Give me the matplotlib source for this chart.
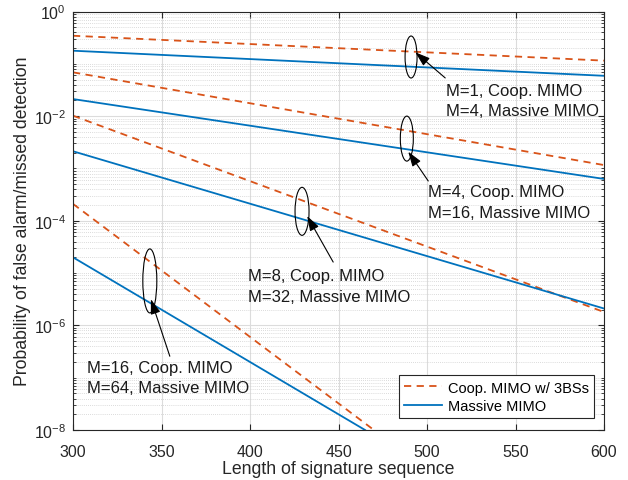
import numpy as np
import matplotlib
matplotlib.use("Agg")
import matplotlib.pyplot as plt
from matplotlib.patches import Ellipse
from matplotlib.ticker import LogLocator, FixedLocator, NullFormatter

plt.rcParams['font.family'] = ['Liberation Sans', 'DejaVu Sans']
plt.rcParams['mathtext.fontset'] = 'custom'
plt.rcParams['mathtext.rm'] = 'Liberation Sans'
plt.rcParams['mathtext.it'] = 'Liberation Sans:italic'

# Data (x = length of signature sequence)
coop_x = [[300, 600], [300, 600], [300, 600], [300, 470]]
coop_y = [[0.344, 0.115], [0.0687, 1.16e-3], [0.0102, 1.8e-6], [2.1e-4, 1e-8]]
mass_x = [[300, 600], [300, 600], [300, 600], [300, 465]]
mass_y = [[0.178, 0.059], [0.0212, 6.3e-4], [2.13e-3, 2.1e-6], [2.0e-5, 1e-8]]

labels = ["M=1, Coop. MIMO\nM=4, Massive MIMO",
          "M=4, Coop. MIMO\nM=16, Massive MIMO",
          "M=8, Coop. MIMO\nM=32, Massive MIMO",
          "M=16, Coop. MIMO\nM=64, Massive MIMO"]
ell_center = [(491, 10**-0.87), (488.6, 10**-2.43), (429.4, 10**-3.82), (343.4, 10**-5.15)]
ell_size_px = [(12, 42), (13, 45), (14, 48), (14, 64)]
arrow_head = [(493.4, 10**-0.78), (489.4, 10**-2.68), (432.3, 10**-3.91), (344.0, 10**-5.50)]
arrow_tail = [(510.3, 10**-1.27), (500.7, 10**-3.24), (447.0, 10**-4.79), (354.7, 10**-6.59)]
text_pos = [(510.5, 10**-1.36), (500.8, 10**-3.30), (398.9, 10**-4.91), (307.8, 10**-6.66)]

blue = '#0072BD'
orange = '#D95319'

W, H = 628, 481
fig = plt.figure(figsize=(W/100, H/100), dpi=100)
ax = fig.add_axes([73/W, 1-431/H, 531/W, 418.5/H])
ax.set_yscale('log')
ax.set_xlim(300, 600)
ax.set_ylim(1e-8, 1)

for i in range(4):
    ax.plot(coop_x[i], coop_y[i], '--', color=orange, lw=1.3,
            label='Coop. MIMO w/ 3BSs' if i == 0 else None, dashes=(4, 3))
    ax.plot(mass_x[i], mass_y[i], '-', color=blue, lw=1.3,
            label='Massive MIMO' if i == 0 else None)

ax.set_xticks([300, 350, 400, 450, 500, 550, 600])
ax.yaxis.set_major_locator(FixedLocator([1e-8, 1e-6, 1e-4, 1e-2, 1e0]))
ax.yaxis.set_minor_locator(LogLocator(base=10, subs=np.arange(1, 10), numticks=100))
ax.yaxis.set_minor_formatter(NullFormatter())

ax.grid(True, which='major', color='#dcdcdc', lw=0.8, ls='-')
ax.grid(True, which='minor', axis='y', color='#cfcfcf', lw=0.6, ls=(0, (1, 1.5)))
ax.set_axisbelow(True)
ax.tick_params(which='both', direction='in', top=True, right=True, labelsize=11.5,
               color='#262626', labelcolor='#262626')
ax.tick_params(which='major', length=4)
ax.tick_params(which='minor', length=2.5)
ax.tick_params(axis='x', pad=10)
ax.tick_params(axis='y', pad=5)
for s in ax.spines.values():
    s.set_color('#262626')
    s.set_linewidth(0.8)

ax.set_xlabel('Length of signature sequence', fontsize=12.7, color='#262626', labelpad=1)
ax.set_ylabel('Probability of false alarm/missed detection', fontsize=12.7, color='#262626', labelpad=2)

axw, axh = 531, 418.5
for i in range(4):
    cx, cy = ax.transLimits.transform(ax.transScale.transform(ell_center[i]))
    e = Ellipse((cx, cy), ell_size_px[i][0]/axw, ell_size_px[i][1]/axh,
                transform=ax.transAxes, fill=False, ec='k', lw=0.8, zorder=5)
    ax.add_patch(e)
    ax.annotate('', xy=arrow_head[i], xytext=arrow_tail[i],
                arrowprops=dict(arrowstyle='-|>,head_length=0.9,head_width=0.3', color='k',
                                lw=0.8, shrinkA=0, shrinkB=0), zorder=6)
    ax.text(text_pos[i][0], text_pos[i][1], labels[i], fontsize=12, va='top', ha='left',
            linespacing=1.45, color='#1a1a1a', zorder=6)

leg = ax.legend(loc='lower right', fontsize=10.5, frameon=True, fancybox=False,
                edgecolor='#262626', framealpha=1, borderaxespad=0,
                bbox_to_anchor=(594/W, 1-419/H), bbox_transform=fig.transFigure,
                handlelength=2.6, handletextpad=0.4, borderpad=0.35, labelspacing=0.3)
leg.get_frame().set_linewidth(0.8)

fig.savefig('out.png', dpi=100)
